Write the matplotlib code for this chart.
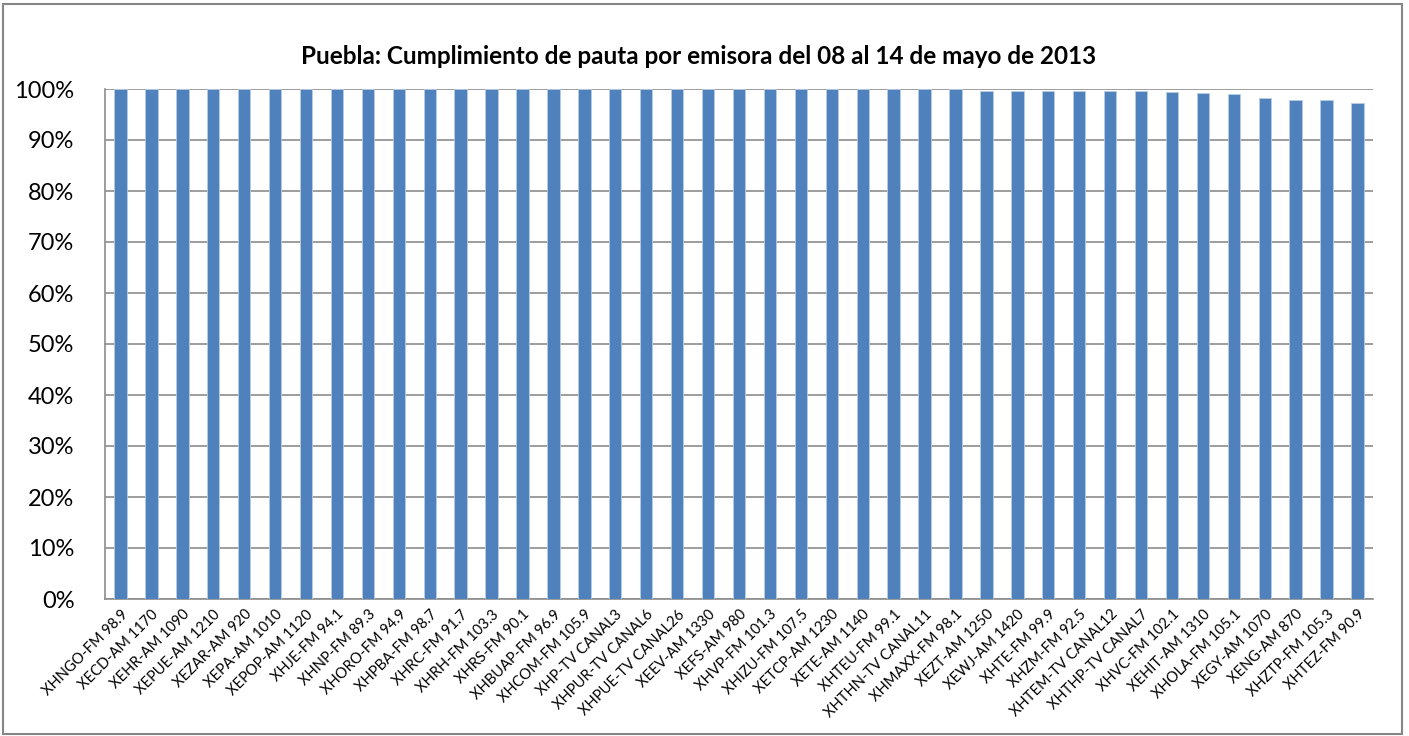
import matplotlib.pyplot as plt
from matplotlib.patches import Rectangle
from matplotlib.ticker import FuncFormatter

emisoras = ['XHNGO-FM 98.9', 'XECD-AM 1170', 'XEHR-AM 1090', 'XEPUE-AM 1210', 'XEZAR-AM 920',
            'XEPA-AM 1010', 'XEPOP-AM 1120', 'XHJE-FM 94.1', 'XHNP-FM 89.3', 'XHORO-FM 94.9',
            'XHPBA-FM 98.7', 'XHRC-FM 91.7', 'XHRH-FM 103.3', 'XHRS-FM 90.1', 'XHBUAP-FM 96.9',
            'XHCOM-FM 105.9', 'XHP-TV CANAL3', 'XHPUR-TV CANAL6', 'XHPUE-TV CANAL26', 'XEEV-AM 1330',
            'XEFS-AM 980', 'XHVP-FM 101.3', 'XHIZU-FM 107.5', 'XETCP-AM 1230', 'XETE-AM 1140',
            'XHTEU-FM 99.1', 'XHTHN-TV CANAL11', 'XHMAXX-FM 98.1', 'XEZT-AM 1250', 'XEWJ-AM 1420',
            'XHTE-FM 99.9', 'XHZM-FM 92.5', 'XHTEM-TV CANAL12', 'XHTHP-TV CANAL7', 'XHVC-FM 102.1',
            'XEHIT-AM 1310', 'XHOLA-FM 105.1', 'XEGY-AM 1070', 'XENG-AM 870', 'XHZTP-FM 105.3',
            'XHTEZ-FM 90.9']
cumplimiento = [1.0] * 28 + [0.997, 0.997, 0.997, 0.996, 0.996, 0.996, 0.994, 0.993,
                             0.991, 0.982, 0.979, 0.978, 0.972]

plt.rcParams['font.family'] = ['Lato', 'DejaVu Sans']

fig = plt.figure(figsize=(14.09, 7.36), dpi=100)
ax = fig.add_axes([105 / 1409, 1 - 599 / 736, 1268 / 1409, 510 / 736])

x = range(len(emisoras))
ax.bar(x, cumplimiento, width=0.4, color='#4F81BD', edgecolor='#B9CDE5', linewidth=0.6, zorder=3)

ax.set_xlim(-0.5, len(emisoras) - 0.5)
ax.set_ylim(0, 1.0)
ax.set_yticks([i / 10 for i in range(11)])
ax.yaxis.set_major_formatter(FuncFormatter(lambda v, p: f"{v * 100:.0f}%"))
ax.grid(axis='y', color='#8C8C8C', linewidth=1.2, zorder=0)
ax.set_xticks(list(x))
ax.set_xticklabels(emisoras, rotation=45, ha='right', rotation_mode='anchor', fontsize=10.5)
ax.tick_params(axis='x', length=0, pad=6)
ax.tick_params(axis='y', length=0, labelsize=17, pad=22)
for s in ['top', 'right']:
    ax.spines[s].set_visible(False)
for s in ['left', 'bottom']:
    ax.spines[s].set_color('#8C8C8C')
    ax.spines[s].set_linewidth(1.2)

fig.text(699 / 1409, 1 - 57 / 736, 'Puebla: Cumplimiento de pauta por emisora del 08 al 14 de mayo de 2013',
         ha='center', va='center', fontsize=17.5, fontweight='bold')

# marco exterior del grafico
fig.patches.append(Rectangle((3 / 1409, 2 / 736), 1399 / 1409, 730 / 736, transform=fig.transFigure,
                             fill=False, edgecolor='#868686', linewidth=1.5))

plt.savefig('out.png', dpi=100)
plt.close()
